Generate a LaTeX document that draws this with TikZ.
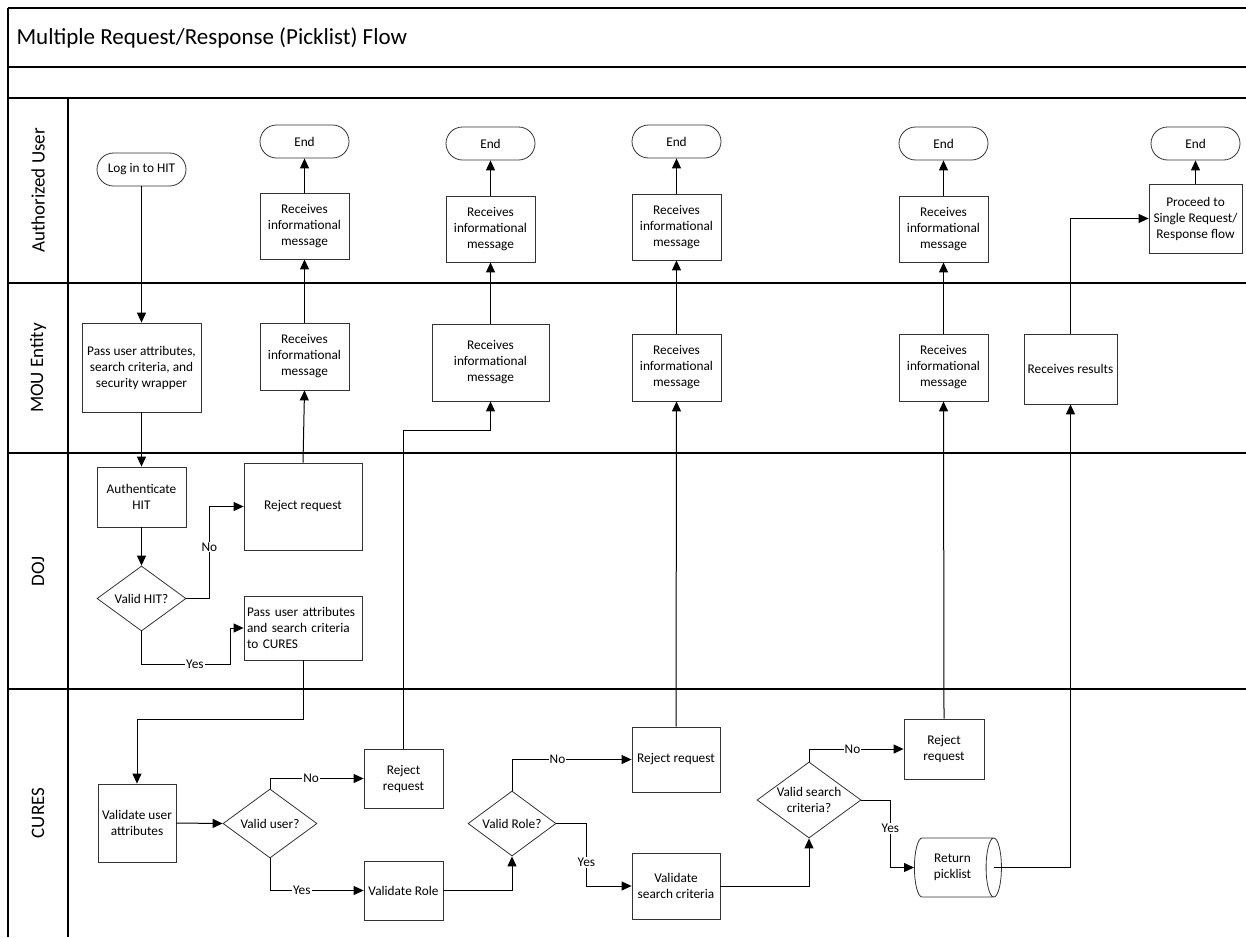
\documentclass[tikz,border=0pt]{standalone}
\usepackage{fontspec}
\setmainfont{Carlito}
\usetikzlibrary{shapes.geometric,shapes.misc,arrows.meta,calc}
\begin{document}
\begin{tikzpicture}[x=1pt,y=-1pt,
  every node/.style={font=\fontsize{13.3}{16}\selectfont},
  box/.style={draw=black!80, line width=0.8pt, rectangle, align=center, inner sep=2pt},
  term/.style={draw=black!80, line width=0.8pt, rounded rectangle, minimum width=89pt, minimum height=33pt, inner sep=0pt},
  dec/.style={draw=black!80, line width=0.8pt, diamond, align=center, inner sep=0pt, aspect=1.4},
  cyl/.style={draw=black!80, line width=0.8pt, cylinder, align=center, inner sep=2pt},
  arr/.style={draw=black, line width=1pt, -{Triangle[length=10pt,width=9pt]}},
  lbl/.style={fill=white, inner sep=1pt},
  lane/.style={line width=1.6pt},
  lanetxt/.style={rotate=90, font=\fontsize{19}{22}\selectfont}
]
\useasboundingbox (0,0) rectangle (1246,937);
% frame and lanes
\draw[lane] (8,8) -- (1246,8);
\draw[lane] (8,67) -- (1246,67);
\draw[lane] (8,98) -- (1246,98);
\draw[lane] (8,283) -- (1246,283);
\draw[lane] (8,453) -- (1246,453);
\draw[lane] (8,689) -- (1246,689);
\draw[lane] (8,8) -- (8,937);
\draw[lane] (68,98) -- (68,937);
\node[anchor=west, font=\fontsize{23}{27}\selectfont] (title) at (13,37.5) {Multiple Request/Response (Picklist) Flow};
\node[lanetxt] (lau) at (38,190.5) {Authorized User};
\node[lanetxt] (lmou) at (38,368) {MOU Entity};
\node[lanetxt] (ldoj) at (38,571) {DOJ};
\node[lanetxt] (lcur) at (38,813) {CURES};

% Authorized User
\node[term] (login) at (141.5,169.5) {Log in to HIT};
\node[term] (end1) at (304.5,141.5) {End};
\node[term] (end2) at (490.5,143.5) {End};
\node[term] (end3) at (676.5,141.5) {End};
\node[term] (end4) at (943.5,143.5) {End};
\node[term] (end5) at (1195.5,143.5) {End};
\node[box, minimum width=89pt, minimum height=66pt] (rau1) at (304.5,226) {Receives\\informational\\message};
\node[box, minimum width=89pt, minimum height=66pt] (rau2) at (490.5,229) {Receives\\informational\\message};
\node[box, minimum width=89pt, minimum height=66pt] (rau3) at (676.5,227) {Receives\\informational\\message};
\node[box, minimum width=89pt, minimum height=66pt] (rau4) at (943.5,229) {Receives\\informational\\message};
\node[box, minimum width=93pt, minimum height=69pt] (proceed) at (1195.5,218.5) {Proceed to\\Single Request/\\Response flow};

% MOU Entity
\node[box, minimum width=119pt, minimum height=89pt] (passmou) at (141.5,367.5) {Pass user attributes,\\search criteria, and\\security wrapper};
\node[box, minimum width=89pt, minimum height=67pt] (rmou1) at (304.5,356.5) {Receives\\informational\\message};
\node[box, minimum width=117pt, minimum height=77pt] (rmou2) at (490.5,362.5) {Receives\\informational\\message};
\node[box, minimum width=89pt, minimum height=67pt] (rmou3) at (676.5,367.5) {Receives\\informational\\message};
\node[box, minimum width=89pt, minimum height=67pt] (rmou4) at (943.5,367.5) {Receives\\informational\\message};
\node[box, minimum width=93pt, minimum height=70pt] (rres) at (1070.5,369) {Receives results};

% DOJ
\node[box, minimum width=89pt, minimum height=60pt] (auth) at (141.5,497) {Authenticate\\HIT};
\node[box, minimum width=118pt, minimum height=87pt] (rejdoj) at (303,506.5) {Reject request};
\node[dec, minimum width=89pt, minimum height=65pt] (validhit) at (141.5,598.5) {Valid HIT?};
\node[box, text width=112pt, align=left, inner sep=3pt, minimum height=64pt] (passcures) at (303,628) {Pass user attributes\\and search criteria\\to CURES};

% CURES
\node[box, minimum width=78pt, minimum height=78pt] (vua) at (137,823) {Validate user\\attributes};
\node[dec, minimum width=94pt, minimum height=69pt] (vuser) at (270,823.5) {Valid user?};
\node[box, minimum width=79pt, minimum height=59pt] (rej1) at (403.5,778.5) {Reject\\request};
\node[box, minimum width=79pt, minimum height=59pt] (vrole) at (403.5,890.5) {Validate Role};
\node[dec, minimum width=88pt, minimum height=65pt] (vroled) at (512,823.5) {Valid Role?};
\node[box, minimum width=88pt, minimum height=65pt] (rej2) at (676,759.5) {Reject request};
\node[box, minimum width=88pt, minimum height=66pt] (vsc) at (676,886) {Validate\\search criteria};
\node[dec, minimum width=104pt, minimum height=76pt] (vscd) at (809,800) {Valid search\\criteria?};
\node[box, minimum width=80pt, minimum height=60pt] (rej3) at (944,749) {Reject\\request};
\node[cyl, minimum width=59pt, minimum height=87pt, aspect=0.5] (ret) at (952.5,867.5) {Return\\picklist};

% connectors
\draw[arr] (login.south) -- (passmou.north);
\draw[arr] (passmou.south) -- (auth.north);
\draw[arr] (auth.south) -- (validhit.north);
\draw[arr] (validhit.east) -- ++(23,0) |- node[lbl,pos=0.28]{No} (rejdoj.west);
\draw[arr] (validhit.south) -- ++(0,33) -- node[lbl,pos=0.6]{Yes} ++(89,0) |- (passcures.west);
\draw[arr] (rejdoj.north) -- (rmou1.south);
\draw[arr] (rmou1.north) -- (rau1.south);
\draw[arr] (rau1.north) -- (end1.south);
\draw[arr] (passcures.south) -- ++(0,59) -| (vua.north);
\draw[arr] (vua.east) -- (vuser.west);
\draw[arr] (vuser.north) |- node[lbl,pos=0.72]{No} (rej1.west);
\draw[arr] (vuser.south) |- node[lbl,pos=0.67]{Yes} (vrole.west);
\draw[arr] (rej1.north) -- ++(0,-318) -| (rmou2.south);
\draw[arr] (rmou2.north) -- (rau2.south);
\draw[arr] (rau2.north) -- (end2.south);
\draw[arr] (vrole.east) -| (vroled.south);
\draw[arr] (vroled.north) |- node[lbl,pos=0.69]{No} (rej2.west);
\draw[arr] (vroled.east) -- ++(30,0) |- node[lbl,pos=0.31]{Yes} (vsc.west);
\draw[arr] (rej2.north) -- (rmou3.south);
\draw[arr] (rmou3.north) -- (rau3.south);
\draw[arr] (rau3.north) -- (end3.south);
\draw[arr] (vsc.east) -| (vscd.south);
\draw[arr] (vscd.north) |- node[lbl,pos=0.73]{No} (rej3.west);
\draw[arr] (vscd.east) -- ++(29,0) |- node[lbl,pos=0.21]{Yes} (ret.west);
\draw[arr] (rej3.north) -- (rmou4.south);
\draw[arr] (rmou4.north) -- (rau4.south);
\draw[arr] (rau4.north) -- (end4.south);
\draw[arr] ($(ret.east)+(-8,0)$) -| (rres.south);
\draw[arr] (rres.north) |- (proceed.west);
\draw[arr] (proceed.north) -- (end5.south);
\end{tikzpicture}
\end{document}
